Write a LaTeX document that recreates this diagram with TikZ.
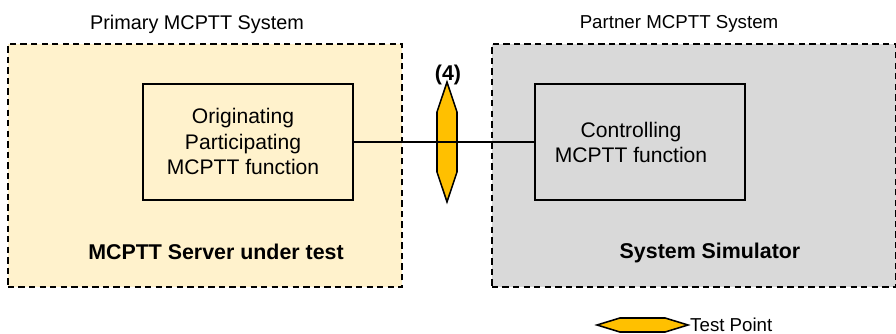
\documentclass[tikz,border=0pt]{standalone}
\usepackage{fontspec}
\setmainfont{Liberation Sans}
\usetikzlibrary{positioning,shapes.symbols}

\begin{document}
\begin{tikzpicture}[x=0.025cm, y=-0.025cm,
    system/.style={rectangle, draw=black, line width=1.2pt, dashed, dash pattern=on 4.5pt off 3pt, minimum height=6.075cm, inner sep=0pt},
    func/.style={rectangle, draw=black, line width=1.1pt, minimum width=5.25cm, minimum height=2.9cm, inner sep=0pt},
    label/.style={font=\fontsize{15pt}{18.4pt}\selectfont, align=center},
    boldlabel/.style={font=\fontsize{15.2pt}{18.4pt}\selectfont\bfseries, align=center},
    caption/.style={font=\fontsize{13.3pt}{16pt}\selectfont, align=center},
    testpoint/.style={signal, draw=black, line width=1.1pt, fill=tpgold, inner sep=0pt}
]
\definecolor{tpgold}{RGB}{255,192,0}
\definecolor{primfill}{RGB}{255,242,204}
\definecolor{partfill}{RGB}{217,217,217}
\useasboundingbox (0,0) rectangle (896,334);

% System boxes
\node[system, fill=primfill, minimum width=9.85cm] (primary) at (205, 165.5) {};
\node[system, fill=partfill, minimum width=10.1cm] (partner) at (694, 165.5) {};

% Functions
\node[func, fill=primfill] (orig) at (248, 142) {};
\node[func, fill=partfill] (ctrl) at (640, 142) {};

% Test point on the interface
\node[testpoint, signal to=north and south, signal pointer angle=37, minimum width=0.5cm, minimum height=1.5cm] (tp) at (447, 142) {};
\draw[line width=1.1pt] (orig.east) -- (ctrl.west);

% Labels
\node[label, font=\fontsize{14.1pt}{16pt}\selectfont] (primlabel) at (197, 24) {Primary MCPTT System};
\node[caption] (partlabel) at (679, 24) {Partner MCPTT System};
\node[boldlabel] (tplabel) at (448, 75) {(4)};
\node[label] (origtext) at (243, 141.5) {Originating\\Participating\\MCPTT function};
\node[label] (ctrltext) at (631, 142.5) {Controlling\\MCPTT function};
\node[boldlabel] (srvlabel) at (216, 252) {MCPTT Server under test};
\node[boldlabel] (simlabel) at (710, 253) {System Simulator};

% Legend
\node[testpoint, signal to=east and west, signal pointer angle=34, minimum width=2.275cm, minimum height=0.35cm] (legendtp) at (642.5, 325) {};
\node[caption, right=-0.5pt of legendtp.east, inner sep=0pt] (legendtext) {Test Point};

\end{tikzpicture}
\end{document}
